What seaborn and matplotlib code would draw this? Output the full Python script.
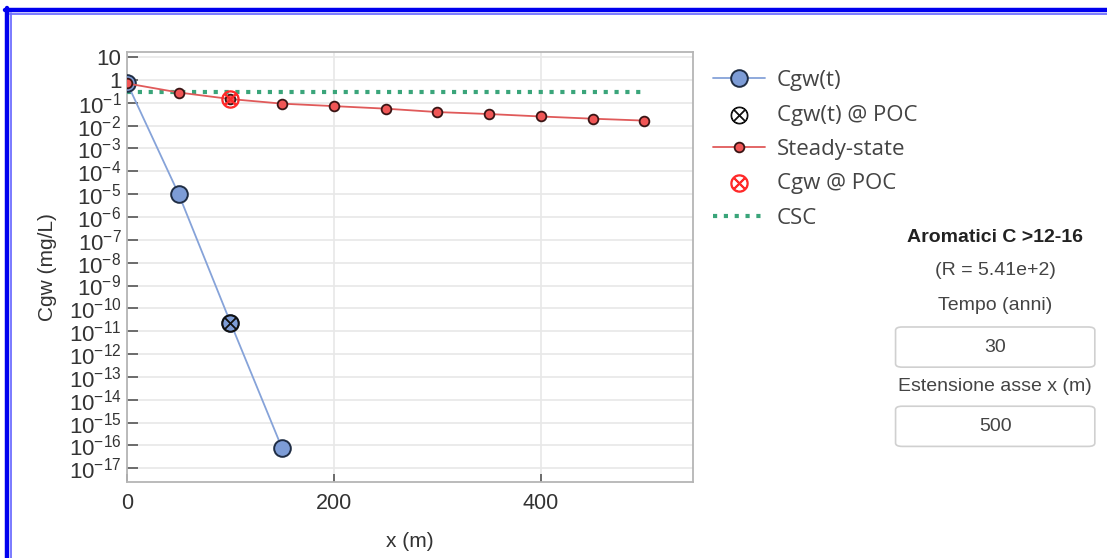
import numpy as np
import pandas as pd
import matplotlib
matplotlib.use("Agg")
import matplotlib.pyplot as plt
from matplotlib.patches import FancyBboxPatch
from matplotlib.lines import Line2D
import seaborn as sns

# values
x_transient = [0, 50, 100, 150]
cgw_transient = [0.75, 1.0e-5, 2.4e-11, 7.4e-17]

x_steady = [0, 50, 100, 150, 200, 250, 300, 350, 400, 450, 500]
cgw_steady = [0.70, 0.28, 0.145, 0.091, 0.071, 0.055, 0.039, 0.032, 0.025, 0.020, 0.0165]

x_poc = [100]
cgw_t_poc = [2.4e-11]
cgw_poc = [0.145]

x_csc = [0, 500]
csc = [0.31, 0.31]

y_tick_exps = list(range(1, -18, -1))
x_ticks = [0, 200, 400]

title_txt = "Aromatici C >12-16"
r_txt = "(R = 5.41e+2)"
tempo_lbl = "Tempo (anni)"
tempo_val = "30"
ext_lbl = "Estensione asse x (m)"
ext_val = "500"

sns.set_style("whitegrid")
plt.rcParams['font.family'] = ['Liberation Sans', 'DejaVu Sans']
plt.rcParams['mathtext.fontset'] = 'custom'
plt.rcParams['mathtext.rm'] = 'Liberation Sans'
plt.rcParams['mathtext.it'] = 'Liberation Sans'

fig = plt.figure(figsize=(11.07, 5.58), dpi=100)
ax = fig.add_axes([0.1147, 0.1362, 0.5113, 0.7706])

df_t = pd.DataFrame({'x': x_transient, 'y': cgw_transient})
df_s = pd.DataFrame({'x': x_steady, 'y': cgw_steady})
df_csc = pd.DataFrame({'x': x_csc, 'y': csc})

sns.lineplot(data=df_t, x='x', y='y', ax=ax, color='#86a3d9', lw=1.3,
             marker='o', markersize=12, markerfacecolor='#7d9cd6',
             markeredgecolor='#1f2d44', markeredgewidth=1.4, label='Cgw(t)', zorder=4)
sns.scatterplot(x=x_poc, y=cgw_t_poc, ax=ax, marker=r'$\otimes$', s=150,
                color='#111111', edgecolor='#111111', linewidth=0.7, label='Cgw(t) @ POC', zorder=5)
sns.lineplot(data=df_s, x='x', y='y', ax=ax, color='#e05a5a', lw=1.3,
             marker='o', markersize=7, markerfacecolor='#f05656',
             markeredgecolor='#3a1515', markeredgewidth=1.3, label='Steady-state', zorder=4)
sns.scatterplot(x=x_poc, y=cgw_poc, ax=ax, marker=r'$\otimes$', s=150,
                color='#ff2a2a', edgecolor='#ff2a2a', linewidth=1.1, label='Cgw @ POC', zorder=5)
sns.lineplot(data=df_csc, x='x', y='y', ax=ax, color='#3aa57a', lw=3,
             linestyle=(0, (1, 1.6)), label='CSC', zorder=3)

ax.set_yscale('log')
ax.set_ylim(10 ** -17.6, 10 ** 1.22)
ax.set_xlim(0, 547)
ax.set_yticks([10.0 ** k for k in y_tick_exps])
ax.set_yticklabels(['10' if k == 1 else '1' if k == 0 else r'$10^{%d}$' % k for k in y_tick_exps])
ax.minorticks_off()
ax.set_xticks(x_ticks)
ax.tick_params(axis='y', direction='in', length=8, width=1.2, color='#555555',
               labelsize=16, pad=4, labelcolor='#333333', left=True)
ax.tick_params(axis='x', direction='in', length=6, width=1.2, color='#555555',
               labelsize=15.5, pad=8, labelcolor='#333333', bottom=True)
ax.grid(True, color='#e8e8e8', lw=1.2)
for sp in ax.spines.values():
    sp.set_color('#b5b5b5')
    sp.set_linewidth(1.3)
ax.set_xlabel('x (m)', fontsize=15, color='#333333', labelpad=13)
ax.set_ylabel('Cgw (mg/L)', fontsize=15, color='#333333', labelpad=8)

leg = ax.legend(loc='upper left', bbox_to_anchor=(0.626, 0.910), bbox_transform=fig.transFigure,
                frameon=False, handlelength=2.34, labelspacing=0.6, handletextpad=0.54,
                prop={'family': 'Open Sans', 'size': 16})
for t in leg.get_texts():
    t.set_color('#444444')

# right-hand panel
cx = 0.899
fig.text(cx, 0.575, title_txt, ha='center', va='center', fontsize=14, fontweight='bold',
         color='#222222')
fig.text(cx, 0.515, r_txt, ha='center', va='center', fontsize=14, color='#444444')
fig.text(cx, 0.452, tempo_lbl, ha='center', va='center', fontsize=14, color='#444444')
fig.text(cx, 0.307, ext_lbl, ha='center', va='center', fontsize=14, color='#444444')
for yc, val in [(0.378, tempo_val), (0.236, ext_val)]:
    box = FancyBboxPatch((0.809, yc - 0.036), 0.180, 0.072, boxstyle='round,pad=0,rounding_size=0.006',
                         transform=fig.transFigure, fc='white', ec='#d0d0d0', lw=1.2)
    fig.add_artist(box)
    fig.text(cx, yc, val, ha='center', va='center', fontsize=14, color='#444444')

# blue frame (top and left edges)
H, W = 558.0, 1107.0
fig.add_artist(Line2D([5 / W, 1], [1 - 9.5 / H, 1 - 9.5 / H], color='#0000ee', lw=3.2))
fig.add_artist(Line2D([10 / W, 1], [1 - 13.5 / H, 1 - 13.5 / H], color='#7070ff', lw=1.3))
fig.add_artist(Line2D([7 / W, 7 / W], [0, 1 - 8 / H], color='#0000ee', lw=3.2))
fig.add_artist(Line2D([11 / W, 11 / W], [0, 1 - 13 / H], color='#7070ff', lw=1.3))

fig.savefig('out.png', dpi=100)
